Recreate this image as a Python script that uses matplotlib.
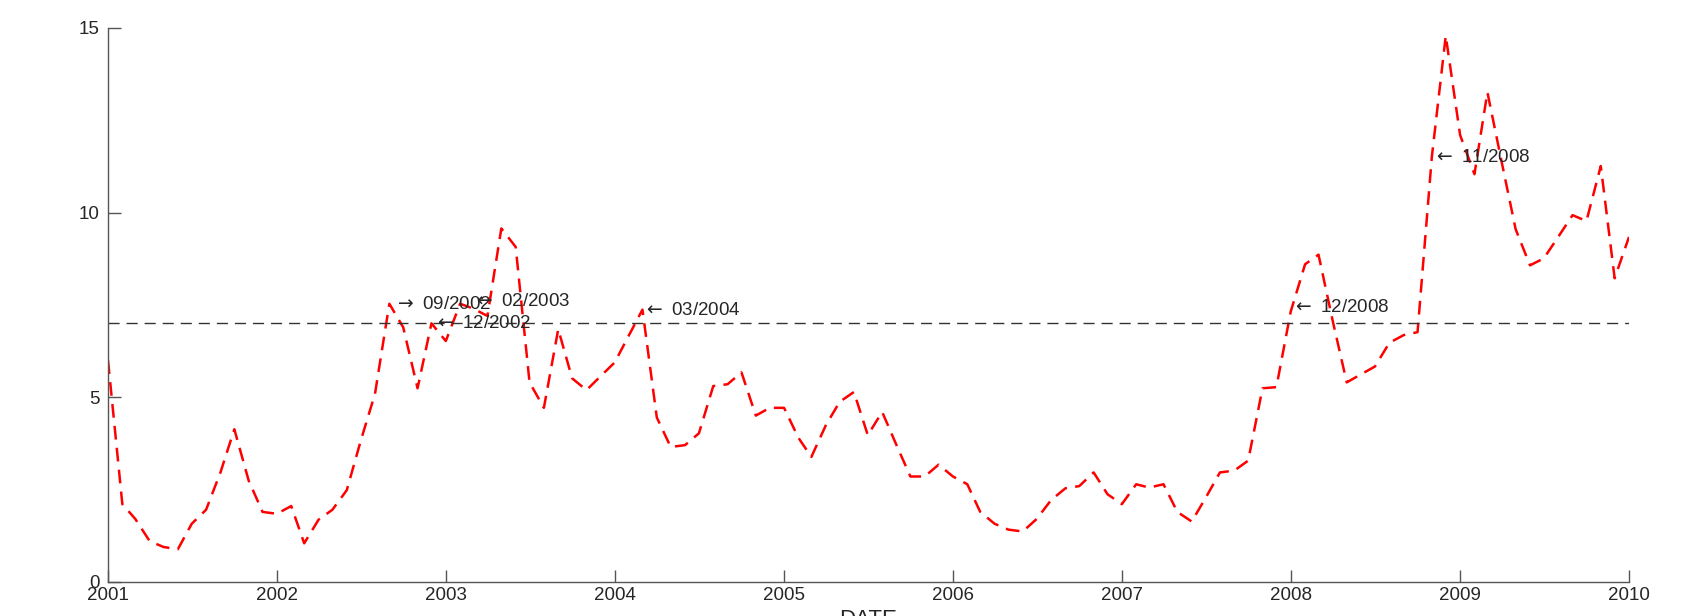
import matplotlib
matplotlib.use("Agg")
import matplotlib.pyplot as plt
import matplotlib.dates as mdates
import pandas as pd
import numpy as np

plt.rcParams['font.family'] = ['Liberation Sans', 'DejaVu Sans']
plt.rcParams['mathtext.fontset'] = 'dejavusans'

# Monthly series, Jan 2001 .. Jan 2010
values = [
    6.0, 2.1, 1.7, 1.1, 0.94, 0.88, 1.57, 1.95, 2.96, 4.13, 2.74, 1.89,   # 2001
    1.84, 2.05, 1.04, 1.68, 1.95, 2.48, 3.81, 5.09, 7.53, 6.89, 5.24, 7.0,  # 2002
    6.52, 7.53, 7.4, 7.2, 9.57, 9.07, 5.4, 4.71, 6.84, 5.51, 5.19, 5.56,   # 2003
    5.94, 6.68, 7.37, 4.45, 3.65, 3.7, 4.02, 5.3, 5.35, 5.67, 4.5, 4.71,   # 2004
    4.71, 3.9, 3.38, 4.23, 4.87, 5.14, 3.97, 4.6, 3.7, 2.85, 2.85, 3.17,   # 2005
    2.85, 2.64, 1.89, 1.57, 1.41, 1.36, 1.7, 2.21, 2.53, 2.59, 2.96, 2.37,  # 2006
    2.1, 2.64, 2.55, 2.64, 1.89, 1.63, 2.27, 2.96, 3.01, 3.28, 5.24, 5.27,  # 2007
    7.32, 8.6, 8.86, 7.05, 5.4, 5.62, 5.83, 6.47, 6.68, 6.76, 11.52, 14.79, # 2008
    12.1, 11.04, 13.26, 11.36, 9.55, 8.57, 8.76, 9.34, 9.93, 9.77, 11.26, 8.22,  # 2009
    9.34,                                                                   # 2010
]
dates = pd.date_range("2001-01-01", periods=len(values), freq="MS")

threshold = 7.0

ann_labels = [r"$\rightarrow$ 09/2002", r"$\leftarrow$ 12/2002", r"$\leftarrow$ 02/2003",
              r"$\leftarrow$ 03/2004", r"$\leftarrow$ 12/2008", r"$\leftarrow$ 11/2008"]
ann_dates = pd.to_datetime(["2002-09-12", "2002-12-06", "2003-03-01",
                            "2004-03-03", "2008-01-04", "2008-11-04"])
ann_values = [7.5, 7.0, 7.6, 7.34, 7.43, 11.5]

yticks = [0, 5, 10, 15]
xtick_years = list(range(2001, 2011))

W, H = 1686, 616
fig = plt.figure(figsize=(W / 100, H / 100), dpi=100)
ax = fig.add_axes([108 / W, 1 - 581.7 / H, (1629 - 108) / W, (581.7 - 28) / H])

ax.plot(dates, values, color="red", lw=1.8, linestyle=(0, (5.5, 3.3)))
ax.axhline(threshold, color="#333333", lw=1.0, linestyle=(0, (8, 5)))

for lab, d, v in zip(ann_labels, ann_dates, ann_values):
    ax.text(d, v, lab, ha="left", va="center", fontsize=13.5, color="#262626")

ax.set_xlim(pd.Timestamp("2001-01-01"), pd.Timestamp("2010-01-01"))
ax.set_ylim(0, 15)
ax.set_yticks(yticks)
ax.set_xticks([pd.Timestamp(f"{y}-01-01") for y in xtick_years])
ax.xaxis.set_major_formatter(mdates.DateFormatter("%Y"))

for s in ["top", "right"]:
    ax.spines[s].set_visible(False)
for s in ["left", "bottom"]:
    ax.spines[s].set_color("#555555")
    ax.spines[s].set_linewidth(1.0)

ax.tick_params(axis="both", direction="in", length=9, width=1.0,
               colors="#555555", labelcolor="#262626", labelsize=13.5)
ax.tick_params(axis="x", pad=4)
ax.tick_params(axis="y", pad=6)

ax.set_xlabel("DATE", fontsize=16, color="#262626", va="top")
ax.xaxis.set_label_coords(0.5, -0.0485)

fig.savefig("out.png", dpi=100)
